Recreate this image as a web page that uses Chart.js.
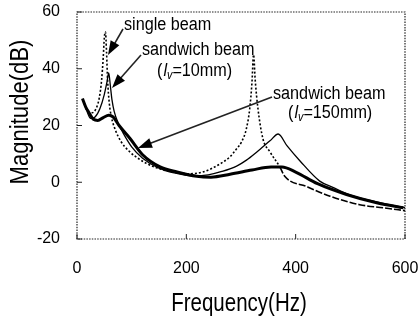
<!DOCTYPE html>
<html>
<head>
<meta charset="utf-8">
<script src="https://cdn.jsdelivr.net/npm/chart.js@4.4.1/dist/chart.umd.min.js"></script>
<style>
  html, body { margin: 0; padding: 0; background: #fff; }
  #wrap { width: 419px; height: 322px; }
</style>
</head>
<body>
<div id="wrap"><canvas id="chart" width="419" height="322"></canvas></div>
<script>
// values (Hz, dB)
const singleFreq = [16, 22, 28, 35, 41, 45, 48, 50, 52, 54, 56, 59, 63, 70, 80, 95, 115, 140, 170, 205, 230, 261, 280, 292, 301, 310, 316, 320, 323, 326, 331, 340, 353, 371, 380, 420, 463, 517, 560, 600];
const singleMag = [26, 24.5, 24.5, 26, 30, 36, 44, 51, 53, 46, 36, 28, 23, 18.5, 14.5, 11, 8, 5.5, 3.8, 3, 3.6, 6.4, 9, 11.8, 14.2, 19, 26, 35, 45, 36, 26, 15.4, 10.7, 5.4, 2.1, -1.5, -4.9, -7.9, -9, -10];

const tenFreq = [18, 25, 33, 42, 50, 55, 58, 61, 64, 68, 75, 84, 100, 120, 150, 180, 215, 240, 265, 292, 310, 329, 353, 368, 384, 408, 444, 468, 500, 550, 600];
const tenMag = [25, 22.5, 23, 26, 31, 35.5, 38.5, 34, 29, 25, 21, 17.5, 12.5, 8.5, 5, 3.2, 2.2, 2.6, 3.8, 5.7, 7.8, 10.7, 14.6, 17, 12.9, 7.5, 0.4, -1.8, -4.5, -7, -9];

const wideFreq = [10, 16, 22, 30, 38, 48, 58, 66, 77, 97, 121, 152, 183, 219, 245, 280, 320, 355, 375, 400, 440, 493, 550, 597];
const wideMag = [29.5, 26.5, 24.5, 22.2, 21.8, 22.8, 23.6, 23, 20, 15.4, 9.5, 5.4, 3.6, 2.1, 1.8, 2.8, 4.3, 5.4, 5.4, 3.6, -0.5, -4.3, -7.3, -9];

const xTicks = [0, 200, 400, 600];
const yTicks = [-20, 0, 20, 40, 60];

const toPoints = (xs, ys) => xs.map((x, i) => ({ x, y: ys[i] }));
const tickFont = { family: "'Liberation Sans Narrow', 'Liberation Sans', sans-serif", size: 16 };
const SQUEEZE = 0.9;

// arrow with a filled head at (x2, y2)
const drawArrow = (ctx, x1, y1, x2, y2) => {
  const ang = Math.atan2(y2 - y1, x2 - x1);
  const len = 14, half = 5;
  ctx.beginPath();
  ctx.moveTo(x1, y1);
  ctx.lineTo(x2 - Math.cos(ang) * len * 0.8, y2 - Math.sin(ang) * len * 0.8);
  ctx.stroke();
  ctx.beginPath();
  ctx.moveTo(x2, y2);
  ctx.lineTo(x2 - Math.cos(ang) * len - Math.sin(ang) * half, y2 - Math.sin(ang) * len + Math.cos(ang) * half);
  ctx.lineTo(x2 - Math.cos(ang) * len + Math.sin(ang) * half, y2 - Math.sin(ang) * len - Math.cos(ang) * half);
  ctx.closePath();
  ctx.fill();
};

// condensed label text; returns the drawn width
const squeezed = (ctx, text, x, y, font) => {
  ctx.font = font;
  ctx.save();
  ctx.translate(x, y);
  ctx.scale(SQUEEZE, 1);
  ctx.fillText(text, 0, 0);
  ctx.restore();
  return ctx.measureText(text).width * SQUEEZE;
};

// "(lv=10mm)" with italic l and subscript v
const drawLv = (ctx, x, y, rest) => {
  x += squeezed(ctx, "(", x, y, "18px 'Liberation Sans'") + 1;
  x += squeezed(ctx, "l", x, y, "italic 18px 'Liberation Sans'");
  x += squeezed(ctx, "v", x, y + 3, "italic 12px 'Liberation Sans'");
  squeezed(ctx, rest, x, y, "18px 'Liberation Sans'");
};

const framePlugin = {
  id: "frame",
  afterDraw(chart) {
    const { ctx, chartArea: a, scales } = chart;
    ctx.save();
    ctx.strokeStyle = "#222";
    ctx.fillStyle = "#000";

    // dotted box
    ctx.lineWidth = 1.2;
    ctx.setLineDash([1.5, 1.2]);
    ctx.strokeRect(a.left, a.top, a.right - a.left, a.bottom - a.top);
    ctx.setLineDash([]);

    // inward ticks
    ctx.lineWidth = 1;
    yTicks.forEach((v) => {
      const py = scales.y.getPixelForValue(v);
      ctx.beginPath();
      ctx.moveTo(a.left, py);
      ctx.lineTo(a.left + 5, py);
      ctx.stroke();
    });
    xTicks.forEach((v) => {
      const px = scales.x.getPixelForValue(v);
      ctx.beginPath();
      ctx.moveTo(px, a.bottom);
      ctx.lineTo(px, a.bottom - 5);
      ctx.stroke();
    });

    // axis titles, condensed
    ctx.textAlign = "center";
    ctx.textBaseline = "middle";
    ctx.font = "25px 'Liberation Sans'";
    ctx.save();
    ctx.translate(239, 304);
    ctx.scale(0.82, 1);
    ctx.fillText("Frequency(Hz)", 0, 0);
    ctx.restore();
    ctx.save();
    ctx.translate(21, 112);
    ctx.rotate(-Math.PI / 2);
    ctx.scale(0.85, 1);
    ctx.font = "26px 'Liberation Sans'";
    ctx.fillText("Magnitude(dB)", 0, 0);
    ctx.restore();

    // annotations
    ctx.textAlign = "left";
    ctx.textBaseline = "alphabetic";
    const f = "18px 'Liberation Sans'";
    squeezed(ctx, "single beam", 124, 30, f);
    squeezed(ctx, "sandwich beam", 142, 55, f);
    drawLv(ctx, 157, 76, "=10mm)");
    squeezed(ctx, "sandwich beam", 273, 99, f);
    drawLv(ctx, 288, 118, "=150mm)");

    ctx.lineWidth = 1.6;
    drawArrow(ctx, 123, 29, 108, 55);
    drawArrow(ctx, 141, 55, 112, 88);
    drawArrow(ctx, 272, 97, 138, 148);
    ctx.restore();
  },
};

new Chart(document.getElementById("chart"), {
  type: "line",
  data: {
    datasets: [
      {
        label: "single beam",
        data: toPoints(singleFreq, singleMag),
        borderColor: "#000",
        borderWidth: 1.6,
        borderDash: [2, 2],
        segment: {
          borderDash: (c) => (c.p0.parsed.x >= 371 ? [7, 2] : [2, 2]),
        },
      },
      {
        label: "sandwich beam (lv=10mm)",
        data: toPoints(tenFreq, tenMag),
        borderColor: "#000",
        borderWidth: 1.3,
      },
      {
        label: "sandwich beam (lv=150mm)",
        data: toPoints(wideFreq, wideMag),
        borderColor: "#000",
        borderWidth: 3,
      },
    ],
  },
  options: {
    responsive: false,
    animation: false,
    devicePixelRatio: 1,
    layout: { autoPadding: false, padding: { top: 12, right: 14, left: 0, bottom: 0 } },
    elements: {
      point: { radius: 0 },
      line: { cubicInterpolationMode: "monotone", fill: false },
    },
    plugins: { legend: { display: false }, tooltip: { enabled: false } },
    scales: {
      x: {
        type: "linear",
        min: 0,
        max: 600,
        afterBuildTicks: (s) => { s.ticks = xTicks.map((v) => ({ value: v })); },
        afterFit: (s) => {
          s.height = 83;
          s.paddingLeft = 0;
          s.paddingRight = 0;
        },
        grid: { display: false, drawTicks: false },
        border: { display: false },
        ticks: { color: "#000", font: tickFont, padding: 20 },
      },
      y: {
        type: "linear",
        min: -20,
        max: 60,
        afterBuildTicks: (s) => { s.ticks = yTicks.map((v) => ({ value: v })); },
        afterFit: (s) => {
          s.width = 77;
          s.paddingTop = 0;
          s.paddingBottom = 0;
        },
        grid: { display: false, drawTicks: false },
        border: { display: false },
        ticks: { color: "#000", font: tickFont, padding: 17 },
      },
    },
  },
  plugins: [framePlugin],
});
</script>
</body>
</html>
